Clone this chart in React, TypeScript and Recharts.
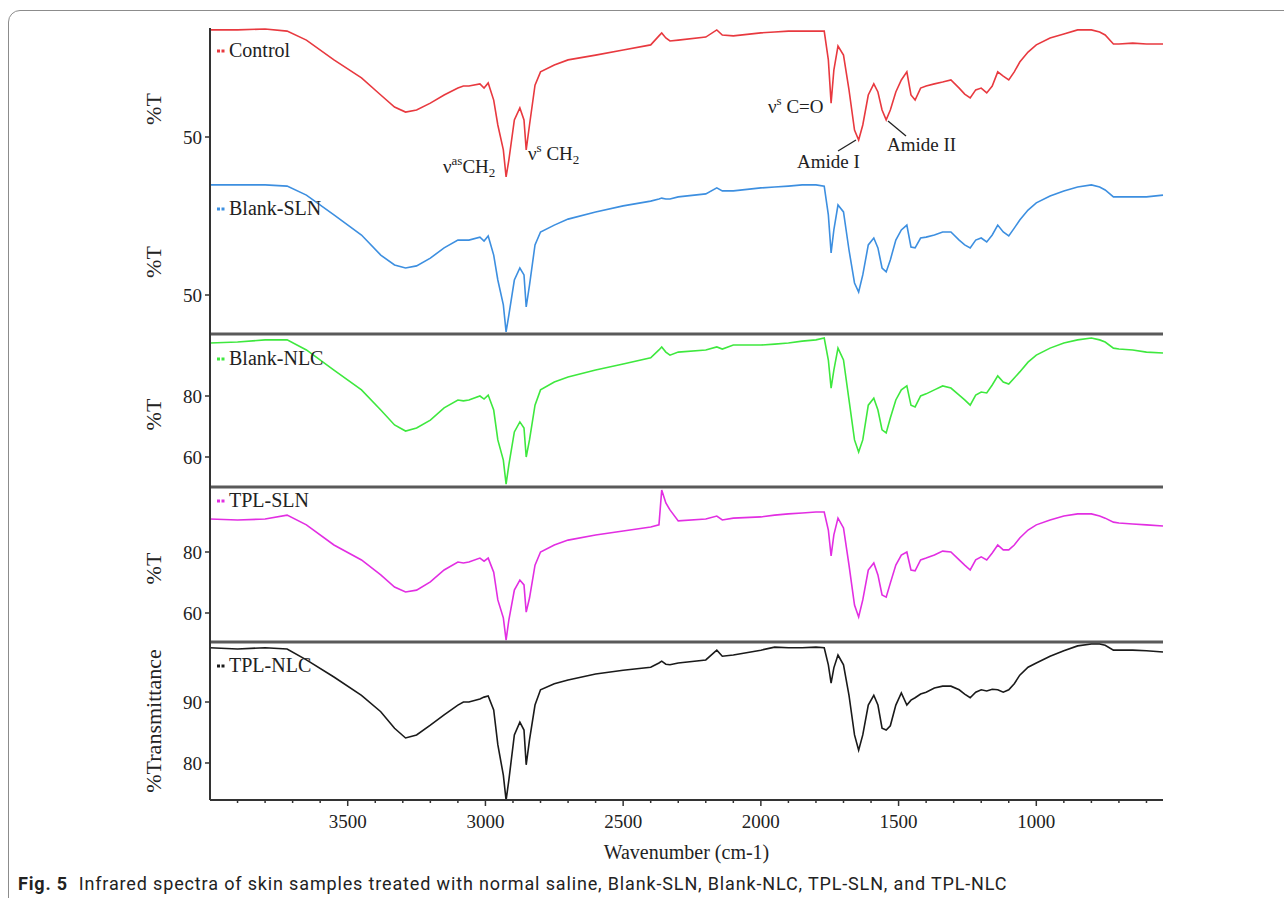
import React from 'react';
import { LineChart, Line, XAxis, YAxis } from 'recharts';

const wavenumbers = [4000, 3900, 3800, 3720, 3650, 3550, 3450, 3380, 3330, 3290, 3250, 3200, 3150, 3100, 3080, 3060, 3020, 3005, 2990, 2970, 2955, 2935, 2925, 2915, 2895, 2875, 2860, 2852, 2840, 2820, 2800, 2750, 2700, 2600, 2500, 2400, 2370, 2360, 2345, 2330, 2300, 2200, 2160, 2140, 2100, 2000, 1950, 1900, 1850, 1800, 1770, 1755, 1745, 1735, 1720, 1700, 1680, 1660, 1645, 1630, 1610, 1590, 1575, 1560, 1545, 1530, 1510, 1490, 1470, 1455, 1440, 1420, 1400, 1370, 1340, 1310, 1280, 1260, 1240, 1220, 1200, 1180, 1160, 1140, 1120, 1100, 1080, 1060, 1030, 1000, 950, 900, 850, 800, 770, 750, 720, 700, 650, 600, 540];

const control = [85.7, 85.7, 86.0, 85.3, 82.3, 75.7, 69.7, 64.0, 60.0, 58.3,
  59.0, 61.3, 64.0, 66.3, 67.0, 67.0, 67.7, 66.3, 68.0, 62.3,
  54.0, 45.7, 36.7, 42.3, 55.7, 59.7, 55.7, 45.7, 54.0, 67.3,
  71.7, 74.0, 75.7, 77.3, 79.0, 80.7, 83.7, 84.7, 83.0, 82.0,
  82.3, 83.3, 85.7, 84.0, 83.7, 84.7, 85.0, 85.3, 85.3, 85.3,
  85.3, 75.7, 61.3, 72.3, 80.3, 77.3, 65.7, 52.3, 49.0, 54.0,
  64.0, 67.7, 65.0, 59.0, 55.7, 59.0, 65.0, 69.0, 71.7, 64.0,
  62.3, 66.3, 67.0, 67.7, 68.3, 69.0, 66.3, 64.3, 63.0, 65.7,
  66.3, 64.7, 67.0, 71.7, 70.3, 69.0, 71.7, 75.0, 78.3, 80.7,
  83.0, 84.3, 85.7, 85.7, 85.0, 84.0, 81.0, 81.0, 81.3, 81.0,
  81.0];

const blankSLN = [86.7, 86.7, 86.7, 86.3, 83.3, 76.7, 70.0, 63.3, 60.0, 59.0,
  59.7, 62.3, 65.7, 68.3, 68.3, 68.3, 69.3, 68.0, 69.7, 63.3,
  55.0, 46.7, 37.7, 43.3, 55.0, 59.0, 56.7, 46.0, 53.3, 66.7,
  71.0, 73.3, 75.3, 77.7, 79.7, 81.3, 82.0, 82.3, 82.0, 82.0,
  82.7, 83.7, 85.7, 84.7, 84.7, 85.7, 86.0, 86.3, 86.7, 86.7,
  86.3, 76.7, 64.0, 71.7, 80.0, 77.7, 65.0, 54.0, 51.0, 56.7,
  66.7, 69.0, 65.7, 59.0, 57.7, 61.7, 68.3, 71.7, 73.3, 66.0,
  65.7, 69.0, 69.3, 70.0, 71.0, 71.0, 68.3, 66.7, 65.7, 68.3,
  69.0, 67.7, 70.0, 73.3, 71.0, 69.7, 72.3, 75.0, 78.3, 80.7,
  83.0, 84.7, 86.0, 86.7, 86.0, 85.0, 82.7, 82.7, 82.7, 82.7,
  83.3];

const blankNLC = [97.4, 97.7, 98.4, 98.4, 95.1, 88.5, 82.0, 75.4, 70.5, 68.5,
  69.5, 72.1, 76.1, 78.7, 78.4, 78.7, 80.0, 79.0, 80.3, 75.4,
  65.6, 59.0, 51.1, 57.4, 68.2, 71.5, 69.5, 60.0, 65.6, 77.0,
  82.0, 84.6, 86.2, 88.5, 90.5, 92.5, 95.1, 96.1, 94.4, 93.4,
  94.4, 95.1, 96.1, 95.4, 96.7, 96.7, 97.0, 97.4, 98.0, 98.4,
  99.0, 91.8, 82.6, 88.5, 95.7, 91.8, 78.7, 65.6, 61.6, 65.6,
  77.0, 79.3, 75.4, 68.9, 67.9, 72.8, 78.7, 82.0, 83.3, 77.0,
  76.4, 80.0, 80.7, 82.0, 83.3, 82.6, 80.3, 78.7, 77.0, 80.3,
  81.3, 81.0, 83.6, 86.6, 84.6, 83.9, 85.9, 87.9, 91.1, 93.4,
  95.7, 97.4, 98.4, 99.0, 98.4, 97.7, 95.7, 95.4, 95.1, 94.4,
  94.1];

const tplSLN = [90.8, 90.5, 90.8, 92.1, 88.9, 82.3, 77.4, 72.5, 68.5, 66.9,
  67.5, 70.2, 74.1, 76.7, 76.4, 76.7, 78.0, 77.0, 78.0, 73.4,
  64.3, 58.4, 51.1, 57.7, 67.5, 70.8, 69.2, 60.3, 64.9, 75.7,
  80.0, 82.3, 83.9, 85.6, 86.9, 88.2, 88.9, 100.3, 96.1, 93.8,
  90.2, 90.8, 91.8, 90.5, 91.1, 91.5, 92.1, 92.5, 92.8, 93.1,
  93.1, 87.2, 78.7, 85.6, 91.1, 87.9, 75.7, 62.6, 58.7, 64.3,
  74.1, 76.4, 72.5, 65.9, 65.2, 69.8, 75.7, 79.0, 80.0, 74.1,
  73.8, 77.4, 78.0, 79.0, 80.3, 80.0, 77.4, 75.7, 74.1, 77.4,
  78.4, 77.4, 79.7, 82.3, 80.7, 80.7, 82.3, 84.6, 87.2, 88.9,
  90.5, 91.8, 92.5, 92.5, 91.8, 91.1, 89.8, 89.5, 89.2, 88.9,
  88.5];

const tplNLC = [98.9, 98.7, 98.9, 98.7, 96.9, 94.1, 91.1, 88.4, 85.7, 84.1,
  84.6, 86.2, 87.9, 89.5, 90.0, 90.0, 90.5, 90.8, 91.0, 88.7,
  83.0, 78.0, 73.9, 77.2, 84.6, 86.7, 85.4, 79.7, 83.8, 89.5,
  92.0, 93.0, 93.6, 94.6, 95.2, 95.7, 96.4, 96.7, 96.2, 96.1,
  96.4, 96.9, 98.5, 97.5, 97.7, 98.5, 99.0, 98.9, 98.9, 99.0,
  98.9, 96.1, 93.1, 95.6, 97.7, 96.1, 91.1, 84.6, 82.1, 84.6,
  89.5, 91.1, 89.5, 85.7, 85.4, 86.1, 89.5, 91.5, 89.5, 90.3,
  90.7, 91.3, 91.6, 92.3, 92.6, 92.6, 92.0, 91.3, 90.7, 91.6,
  92.0, 91.8, 92.1, 92.0, 91.6, 92.0, 93.0, 94.4, 95.7, 96.4,
  97.5, 98.4, 99.2, 99.5, 99.5, 99.3, 98.5, 98.5, 98.5, 98.4,
  98.2];

const seriesNames = ['Control', 'Blank-SLN', 'Blank-NLC', 'TPL-SLN', 'TPL-NLC'];
const seriesValues = [control, blankSLN, blankNLC, tplSLN, tplNLC];
const yTicks = [[50], [50], [60, 80], [60, 80], [80, 90]];
const yDomains: [number, number][] = [[35, 86.33], [37, 87.67], [50.16, 100.33], [50.49, 101.31], [73.93, 99.84]];
const yLabels = ['%T', '%T', '%T', '%T', '%Transmittance'];
const xTicks = [3900, 3800, 3700, 3600, 3500, 3400, 3300, 3200, 3100, 3000, 2900, 2800, 2700, 2600, 2500, 2400, 2300, 2200, 2100, 2000, 1900, 1800, 1700, 1600, 1500, 1400, 1300, 1200, 1100, 1000, 900, 800, 700, 600];

const COLORS = ['#e8393f', '#3d8fe0', '#3ee83e', '#e22ee2', '#1a1a1a'];
const TOPS = [28, 182, 334, 487, 642];
const HEIGHTS = [154, 152, 153, 155, 158];
const LEGEND_Y = [50, 208, 358, 500, 665];
const SERIF = "'Liberation Serif', 'Times New Roman', serif";
const PLOT_LEFT = 210;
const CHART_W = 1200;
const RIGHT_M = 37;

const XTick = (props: any) => {
  const { x, y, payload } = props;
  const major = payload.value % 500 === 0;
  return (
    <g>
      <line x1={x} x2={x} y1={y} y2={y + (major ? 6 : 3)} stroke="#333" strokeWidth={1.5} />
      {major && (
        <text x={x} y={y + 21} textAnchor="middle" dominantBaseline="central" fontFamily={SERIF} fontSize={19} fill="#222">
          {payload.value}
        </text>
      )}
    </g>
  );
};

function Panel({ idx }: { idx: number }) {
  const data = wavenumbers.map((w, i) => ({ w, v: seriesValues[idx][i] }));
  const last = idx === 4;
  const sep = idx > 0 && idx < 4;
  const h = HEIGHTS[idx];
  const chartH = last ? h + 72 : sep ? h + 2 : h;
  const labelFn = (p: any) => {
    const vb = p.viewBox || { y: 0, height: h };
    const cy = vb.y + vb.height / 2 + (last ? 0 : 4);
    return (
      <text x={153} y={cy} transform={`rotate(-90 153 ${cy})`} textAnchor="middle" dominantBaseline="central" fontFamily={SERIF} fontSize={22} fill="#222">
        {yLabels[idx]}
      </text>
    );
  };
  return (
    <div style={{ position: 'absolute', left: 0, top: TOPS[idx], width: CHART_W, height: chartH }}>
      <LineChart width={CHART_W} height={chartH} data={data} margin={{ top: 0, right: RIGHT_M, bottom: 0, left: 0 }}>
        {last ? (
          <XAxis
            type="number"
            dataKey="w"
            domain={[540, 4000]}
            reversed
            ticks={xTicks}
            interval={0}
            tickSize={0}
            tickMargin={0}
            tickLine={false}
            tick={<XTick />}
            height={72}
            axisLine={{ stroke: '#333', strokeWidth: 2 }}
            label={{ value: 'Wavenumber (cm-1)', position: 'insideBottom', offset: 13, fontFamily: SERIF, fontSize: 20, fill: '#222' }}
          />
        ) : sep ? (
          <XAxis type="number" dataKey="w" domain={[540, 4000]} reversed tick={false} tickLine={false} height={2} axisLine={{ stroke: '#5a5a5a', strokeWidth: 3 }} />
        ) : (
          <XAxis type="number" dataKey="w" domain={[540, 4000]} reversed hide />
        )}
        <YAxis
          type="number"
          domain={yDomains[idx]}
          ticks={yTicks[idx]}
          width={PLOT_LEFT}
          tickSize={5}
          tickMargin={3}
          axisLine={{ stroke: '#333', strokeWidth: 2 }}
          tickLine={{ stroke: '#333', strokeWidth: 1.5 }}
          tick={{ fontFamily: SERIF, fontSize: 19, fill: '#222' }}
          label={labelFn}
          allowDataOverflow
        />
        <Line type="linear" dataKey="v" stroke={COLORS[idx]} strokeWidth={1.6} dot={false} isAnimationActive={false} />
      </LineChart>
    </div>
  );
}

export default function App() {
  return (
    <div style={{ position: 'absolute', left: 0, top: 0, width: 1284, height: 898, overflow: 'hidden', background: '#fff' }}>
      <div style={{ position: 'absolute', left: 8, top: 10, width: 1400, height: 1000, border: '1px solid #8c8c8c', borderRadius: 12, boxSizing: 'border-box' }} />
      {seriesNames.map((_, i) => (
        <Panel key={i} idx={i} />
      ))}
      <svg width={1284} height={898} style={{ position: 'absolute', left: 0, top: 0, pointerEvents: 'none' }}>
        {seriesNames.map((n, i) => (
          <g key={n}>
            <line x1={217} x2={225} y1={LEGEND_Y[i] + 1} y2={LEGEND_Y[i] + 1} stroke={COLORS[i]} strokeWidth={3} strokeDasharray="3 1.5" />
            <text x={229} y={LEGEND_Y[i]} dominantBaseline="central" fontFamily={SERIF} fontSize={20} fill="#222">{n}</text>
          </g>
        ))}
        <g fontFamily={SERIF} fontSize={19} fill="#222">
          <text x={443} y={173}>ν<tspan fontSize={13} dy={-8}>as</tspan><tspan dy={8}>CH</tspan><tspan fontSize={13} dy={4}>2</tspan></text>
          <text x={528} y={160}>ν<tspan fontSize={13} dy={-8}>s</tspan><tspan dy={8}> CH</tspan><tspan fontSize={13} dy={4}>2</tspan></text>
          <text x={768} y={113}>ν<tspan fontSize={13} dy={-8}>s</tspan><tspan dy={8}> C=O</tspan></text>
          <text x={797} y={168}>Amide I</text>
          <text x={887} y={151}>Amide II</text>
        </g>
        <line x1={856} y1={140} x2={838} y2={151} stroke="#222" strokeWidth={1.3} />
        <line x1={888} y1={121} x2={906} y2={136} stroke="#222" strokeWidth={1.3} />
      </svg>
      <div style={{ position: 'absolute', left: 18, top: 873, fontFamily: "'Roboto', sans-serif", fontSize: 18, letterSpacing: 0.85, color: '#222', whiteSpace: 'nowrap' }}>
        <b>Fig. 5</b>&nbsp; Infrared spectra of skin samples treated with normal saline, Blank-SLN, Blank-NLC, TPL-SLN, and TPL-NLC
      </div>
    </div>
  );
}
